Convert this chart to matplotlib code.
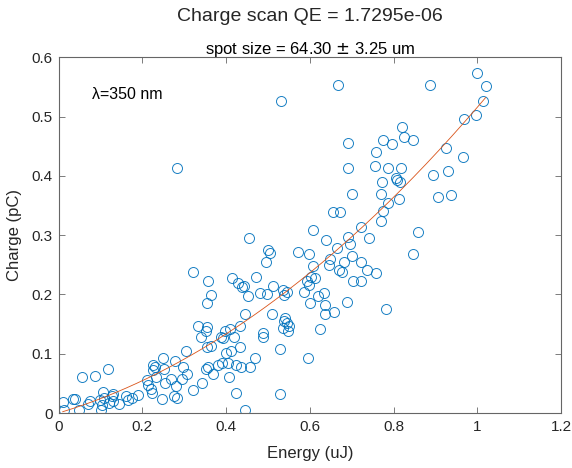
import matplotlib
matplotlib.use("Agg")
import matplotlib.pyplot as plt
import numpy as np

plt.rcParams['font.family'] = ['Liberation Sans', 'DejaVu Sans']

# Measured laser pulse energy (uJ) and collected charge (pC)
energy = [
    0.282, 0.531, 0.456, 0.500, 0.504, 0.573, 0.597, 0.608, 0.495,
    0.999, 1.020, 1.014, 0.668, 0.886, 0.997, 0.968, 0.820, 0.825, 0.847,
    0.775, 0.797, 0.691, 0.758, 0.926, 0.965, 0.691, 0.756, 0.788, 0.819,
    0.930, 0.895, 0.806, 0.809, 0.816, 0.773, 0.701, 0.770, 0.907, 0.938,
    0.812, 0.786, 0.774, 0.655, 0.673, 0.770, 0.723, 0.858, 0.639, 0.692,
    0.741, 0.665, 0.696, 0.847,
    0.702, 0.648, 0.607, 0.645, 0.681, 0.723, 0.669, 0.678, 0.737, 0.757,
    0.602, 0.613, 0.593, 0.703, 0.723, 0.598, 0.586, 0.634, 0.619, 0.688,
    0.600, 0.636, 0.637, 0.659, 0.782, 0.624, 0.596,
    0.321, 0.356, 0.414, 0.428, 0.439, 0.442, 0.471, 0.512, 0.364, 0.354,
    0.453, 0.481, 0.497, 0.537, 0.545, 0.539, 0.445, 0.509, 0.333, 0.354,
    0.353, 0.340, 0.398, 0.410, 0.388, 0.392, 0.418, 0.434, 0.489, 0.488,
    0.535, 0.542, 0.546, 0.549, 0.539, 0.551, 0.528, 0.529, 0.354, 0.364,
    0.358, 0.352, 0.370, 0.382, 0.390, 0.405, 0.400, 0.411, 0.434, 0.424,
    0.436, 0.457, 0.469, 0.408, 0.424, 0.445, 0.343, 0.320, 0.304, 0.298,
    0.308, 0.294, 0.277, 0.281, 0.276, 0.282, 0.250, 0.226, 0.226, 0.230,
    0.252, 0.211, 0.214, 0.220, 0.223, 0.233, 0.255, 0.247, 0.269, 0.191,
    0.167, 0.145, 0.161, 0.131, 0.127, 0.129, 0.119, 0.106, 0.099, 0.101,
    0.087, 0.057, 0.040, 0.035, 0.074, 0.071, 0.050, 0.010, 0.014, 0.175,
    0.120, 0.103, 0.108,
]
charge = [
    0.414, 0.526, 0.296, 0.275, 0.270, 0.271, 0.269, 0.309, 0.254,
    0.574, 0.552, 0.527, 0.553, 0.553, 0.503, 0.496, 0.482, 0.466, 0.461,
    0.461, 0.453, 0.455, 0.441, 0.447, 0.432, 0.414, 0.416, 0.414, 0.413,
    0.409, 0.402, 0.396, 0.393, 0.389, 0.389, 0.370, 0.369, 0.364, 0.367,
    0.361, 0.355, 0.341, 0.339, 0.339, 0.324, 0.314, 0.305, 0.292, 0.297,
    0.295, 0.278, 0.285, 0.269,
    0.264, 0.259, 0.248, 0.250, 0.254, 0.255, 0.242, 0.238, 0.241, 0.236,
    0.230, 0.227, 0.222, 0.222, 0.223, 0.216, 0.204, 0.203, 0.198, 0.188,
    0.186, 0.182, 0.167, 0.170, 0.175, 0.141, 0.093,
    0.238, 0.223, 0.227, 0.219, 0.212, 0.214, 0.230, 0.214, 0.199, 0.186,
    0.198, 0.203, 0.200, 0.208, 0.204, 0.199, 0.167, 0.167, 0.147, 0.145,
    0.138, 0.129, 0.139, 0.141, 0.129, 0.126, 0.129, 0.146, 0.135, 0.128,
    0.143, 0.161, 0.152, 0.139, 0.155, 0.147, 0.108, 0.032, 0.111, 0.113,
    0.078, 0.074, 0.066, 0.081, 0.084, 0.084, 0.101, 0.105, 0.111, 0.081,
    0.078, 0.078, 0.092, 0.061, 0.034, 0.005, 0.050, 0.039, 0.105, 0.078,
    0.066, 0.058, 0.087, 0.046, 0.028, 0.026, 0.093, 0.081, 0.073, 0.078,
    0.074, 0.056, 0.048, 0.040, 0.033, 0.061, 0.050, 0.023, 0.057, 0.031,
    0.022, 0.015, 0.028, 0.032, 0.028, 0.020, 0.074, 0.036, 0.022, 0.005,
    0.062, 0.061, 0.023, 0.024, 0.020, 0.015, 0.005, 0.019, 0.005, 0.025,
    0.017, 0.013, 0.025,
]

# Quadratic fit coefficients (highest power first)
fit_coef = [0.304, 0.2116, 0.0]

title_text = "Charge scan QE = 1.7295e-06"
subtitle_text = "spot size = 64.30 $\\pm$ 3.25 um"
wavelength_text = "\u03bb=350 nm"

x_ticks = [0, 0.2, 0.4, 0.6, 0.8, 1.0, 1.2]
x_tick_labels = ["0", "0.2", "0.4", "0.6", "0.8", "1", "1.2"]
y_ticks = [0, 0.1, 0.2, 0.3, 0.4, 0.5, 0.6]
y_tick_labels = ["0", "0.1", "0.2", "0.3", "0.4", "0.5", "0.6"]

blue = "#0072BD"
orange = "#D95319"
axis_col = "#262626"

fig = plt.figure(figsize=(5.72, 4.68), dpi=100)
ax = fig.add_axes([0.1023, 0.1175, 0.8785, 0.7601])

ax.plot(energy, charge, linestyle="none", marker="o", markersize=7.2,
        markerfacecolor="none", markeredgecolor=blue, markeredgewidth=0.7,
        alpha=0.9)

xf = np.linspace(min(energy), max(energy), 200)
ax.plot(xf, np.polyval(fit_coef, xf), color=orange, linewidth=0.6)

ax.set_xlim(0, 1.2)
ax.set_ylim(0, 0.6)
ax.set_xticks(x_ticks)
ax.set_xticklabels(x_tick_labels)
ax.set_yticks(y_ticks)
ax.set_yticklabels(y_tick_labels)

ax.tick_params(direction="in", length=4, width=0.6, colors="#666666",
               labelcolor=axis_col, labelsize=11, top=True, right=True)
ax.tick_params(axis="x", pad=5)
ax.tick_params(axis="y", pad=4)
for s in ax.spines.values():
    s.set_color("#666666")
    s.set_linewidth(0.8)

ax.set_xlabel("Energy (uJ)", fontsize=12, color=axis_col)
ax.set_ylabel("Charge (pC)", fontsize=12, color=axis_col)
ax.xaxis.set_label_coords(0.5, -0.093)
ax.yaxis.set_label_coords(-0.073, 0.5)

ax.text(0.079, 0.538, wavelength_text, fontsize=11.5, color="black",
        ha="left", va="center")

fig.text(0.5421, 0.9558, title_text, fontsize=14, color=axis_col,
         ha="center", va="baseline")
fig.text(0.5421, 0.8846, subtitle_text, fontsize=12, color="black",
         ha="center", va="baseline")

fig.savefig("out.png", dpi=100)
